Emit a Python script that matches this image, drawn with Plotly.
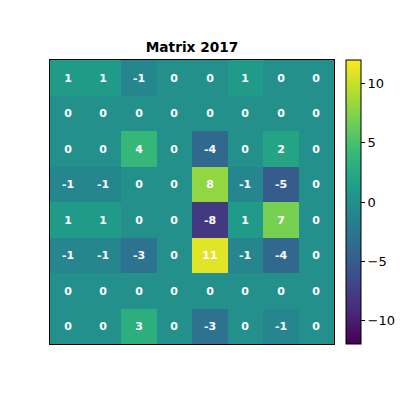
import plotly.graph_objects as go

rows = [0, 1, 2, 3, 4, 5, 6, 7]
cols = [0, 1, 2, 3, 4, 5, 6, 7]
values = [
    [1, 1, -1, 0, 0, 1, 0, 0],
    [0, 0, 0, 0, 0, 0, 0, 0],
    [0, 0, 4, 0, -4, 0, 2, 0],
    [-1, -1, 0, 0, 8, -1, -5, 0],
    [1, 1, 0, 0, -8, 1, 7, 0],
    [-1, -1, -3, 0, 11, -1, -4, 0],
    [0, 0, 0, 0, 0, 0, 0, 0],
    [0, 0, 3, 0, -3, 0, -1, 0],
]
cbar_ticks = [-10, -5, 0, 5, 10]
cbar_labels = ["\u221210", "\u22125", "0", "5", "10"]

labels = [[str(v) for v in row] for row in values]

L, R, T, B = 50, 10, 60, 56
pw = 400 - L - R

fig = go.Figure(go.Heatmap(
    z=values, x=cols, y=rows, text=labels,
    colorscale="Viridis", zmin=-12, zmax=12,
    texttemplate="<b>%{text}</b>",
    textfont=dict(family="DejaVu Sans", size=11, color="white"),
    hoverinfo="skip",
    colorbar=dict(
        x=(346 - L) / pw, xanchor="left", xref="paper",
        y=0.5, yanchor="middle", len=1.0, lenmode="fraction",
        thickness=15, thicknessmode="pixels",
        outlinewidth=1, outlinecolor="black",
        tickvals=cbar_ticks, ticktext=cbar_labels,
        ticks="outside", ticklen=4, tickcolor="black",
        tickfont=dict(family="DejaVu Sans", size=13, color="black"),
        xpad=0, ypad=0,
    ),
))

fig.update_layout(
    width=400, height=400,
    margin=dict(l=L, r=R, t=T, b=B, autoexpand=False),
    paper_bgcolor="white", plot_bgcolor="white",
    title=dict(text="<b>Matrix 2017</b>", x=(50 + 142) / 400, xanchor="center",
               y=1 - 47 / 400, yanchor="middle",
               font=dict(family="DejaVu Sans", size=13.7, color="black")),
    xaxis=dict(domain=[0, 284 / pw], showticklabels=False, ticks="", showgrid=False,
               zeroline=False, showline=True, linecolor="black", linewidth=1,
               mirror=True, range=[-0.5, 7.5]),
    yaxis=dict(showticklabels=False, ticks="", showgrid=False, zeroline=False,
               showline=True, linecolor="black", linewidth=1, mirror=True,
               range=[7.5, -0.5]),
)

fig.write_html("out.html", config={"displayModeBar": False},
               post_script="document.body.style.margin='0';")
